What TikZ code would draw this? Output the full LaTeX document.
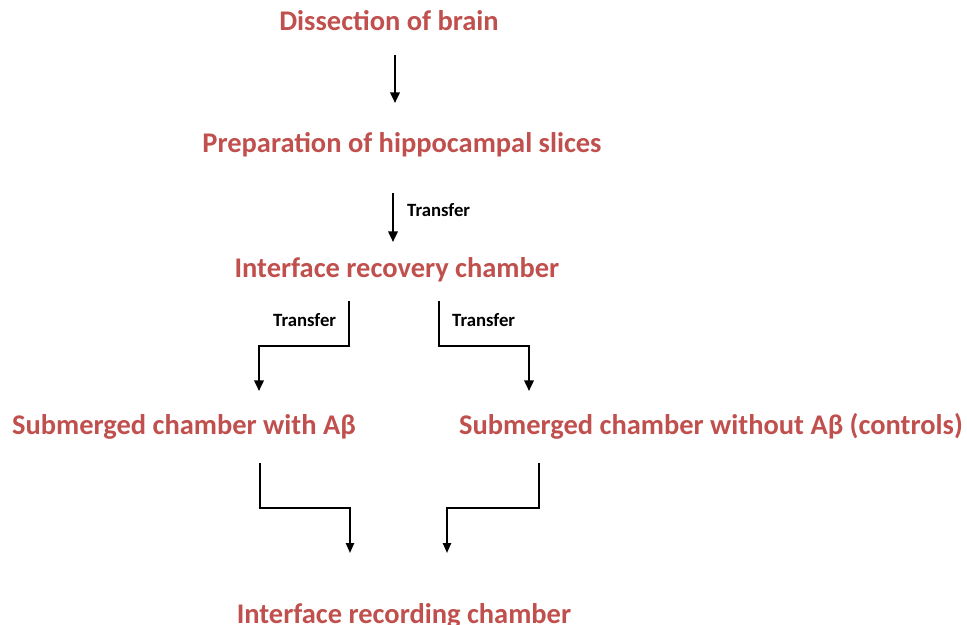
\documentclass[tikz,border=0pt]{standalone}
\usepackage{fontspec}
\setmainfont{Carlito}
\usetikzlibrary{arrows.meta}
\definecolor{stagered}{RGB}{192,80,77}
\tikzset{
  stage/.style={text=stagered, font=\fontsize{24.3}{28}\selectfont\bfseries, inner sep=0pt, anchor=base},
  note/.style={font=\fontsize{16}{19}\selectfont\bfseries, inner sep=0pt, anchor=base west},
  flow/.style={line width=1.8pt, -{Triangle[width=8pt,length=9pt]}},
  thinflow/.style={line width=1.5pt, -{Triangle[width=7pt,length=8.5pt]}},
}
\begin{document}
\begin{tikzpicture}[x=0.03cm,y=-0.03cm]
  \useasboundingbox (0,0) rectangle (967,625);
  % stages of the protocol
  \node[stage] (dissect) at (389,31) {Dissection of brain};
  \node[stage] (prep) at (402,153) {Preparation of hippocampal slices};
  \node[stage] (recovery) at (397,278) {Interface recovery chamber};
  \node[stage] (subA) at (184,435) {Submerged chamber with Aβ};
  \node[stage] (subB) at (711,435) {Submerged chamber without Aβ (controls)};
  \node[stage] (record) at (404,623) {Interface recording chamber};
  % bends of the connectors
  \coordinate (a1) at (395,0);
  \coordinate (a2) at (393,0);
  \coordinate (kneeL) at (259,346);
  \coordinate (kneeR) at (529,346);
  \coordinate (footL) at (350,508);
  \coordinate (footR) at (447,508);
  % connectors
  \draw[flow, shorten <=0.72cm, shorten >=1.5cm] (dissect.base -| a1) -- (prep.base -| a1);
  \draw[flow, shorten <=1.2cm, shorten >=1.08cm] (prep.base -| a2) -- (recovery.base -| a2);
  \node[note] (tr1) at (407,217) {Transfer};
  \draw[flow, shorten <=0.69cm, shorten >=1.32cm] (recovery.base -| 349,0) |- (kneeL) -- (kneeL |- subA.base);
  \draw[flow, shorten <=0.69cm, shorten >=1.32cm] (recovery.base -| 439,0) |- (kneeR) -- (kneeR |- subB.base);
  \node[note] (tr2) at (273,327) {Transfer};
  \node[note] (tr3) at (452,327) {Transfer};
  \draw[thinflow, shorten <=0.84cm, shorten >=2.1cm] (subA.base -| 260,0) |- (footL) -- (footL |- record.base);
  \draw[thinflow, shorten <=0.84cm, shorten >=2.1cm] (subB.base -| 539,0) |- (footR) -- (footR |- record.base);
\end{tikzpicture}
\end{document}
